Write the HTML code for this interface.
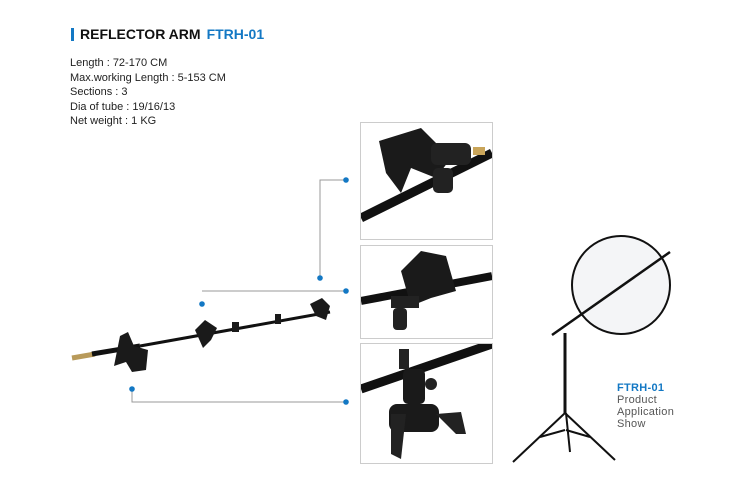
<!DOCTYPE html>
<html><head><style>
body{margin:0;background:#fff;}
.wrap{position:relative;width:732px;height:497px;overflow:hidden;font-family:"Liberation Sans",sans-serif;}
.t{position:absolute;left:80px;top:26px;font-weight:bold;font-size:14px;color:#111;}
.t span{color:#1378c4;margin-left:6px;}
.bar{position:absolute;left:71px;top:28px;width:3px;height:13px;background:#1378c4;}
.spec{position:absolute;left:70px;top:56px;font-size:11px;line-height:14.5px;color:#222;}
.box{position:absolute;left:360px;width:131px;border:1px solid #ccc;background:#fff;overflow:hidden;}
.lab{position:absolute;left:617px;top:382px;font-size:11px;line-height:12px;color:#555;letter-spacing:0.3px;}
.lab b{color:#1378c4;}
</style></head><body><div class="wrap">
<div class="bar"></div>
<div class="t">REFLECTOR ARM<span>FTRH-01</span></div>
<div class="spec">Length : 72-170 CM<br>Max.working Length : 5-153 CM<br>Sections : 3<br>Dia of tube : 19/16/13<br>Net weight : 1 KG</div>

<div class="box" style="top:122px;height:116px;">
<svg width="131" height="116"><line x1="0" y1="95" x2="131" y2="30" stroke="#111" stroke-width="9"/>
<polygon points="18,18 60,5 90,35 75,55 50,45 40,70 25,50" fill="#1a1a1a"/>
<rect x="70" y="20" width="40" height="22" rx="6" fill="#222"/><rect x="112" y="24" width="12" height="8" fill="#c9a55a"/>
<rect x="72" y="45" width="20" height="25" rx="5" fill="#222"/></svg></div>

<div class="box" style="top:245px;height:92px;">
<svg width="131" height="92"><line x1="0" y1="55" x2="131" y2="30" stroke="#111" stroke-width="8"/>
<polygon points="40,25 60,5 85,10 95,45 70,52 50,60" fill="#1a1a1a"/>
<rect x="30" y="50" width="28" height="12" fill="#222"/><rect x="32" y="62" width="14" height="22" rx="4" fill="#222"/></svg></div>

<div class="box" style="top:343px;height:119px;">
<svg width="131" height="119"><line x1="0" y1="45" x2="131" y2="0" stroke="#111" stroke-width="9"/>
<rect x="38" y="5" width="10" height="20" fill="#222"/><rect x="42" y="25" width="22" height="35" rx="5" fill="#1a1a1a"/>
<circle cx="70" cy="40" r="6" fill="#222"/><rect x="28" y="60" width="50" height="28" rx="8" fill="#1a1a1a"/>
<polygon points="30,70 45,70 40,115 30,110" fill="#222"/><polygon points="75,70 100,68 105,90 95,90" fill="#222"/></svg></div>

<svg width="732" height="497" style="position:absolute;left:0;top:0">
<g stroke="#999" stroke-width="1" fill="none">
<polyline points="346,180 320,180 320,278"/>
<polyline points="202,291 346,291"/>
<polyline points="132,389 132,402 346,402"/>
</g>
<g fill="#1378c4">
<circle cx="346" cy="180" r="2.8"/><circle cx="320" cy="278" r="2.8"/>
<circle cx="202" cy="304" r="2.8"/><circle cx="346" cy="291" r="2.8"/>
<circle cx="132" cy="389" r="2.8"/><circle cx="346" cy="402" r="2.8"/>
</g>
<!-- arm -->
<line x1="72" y1="358" x2="95" y2="354" stroke="#b89a5a" stroke-width="5"/>
<line x1="92" y1="354" x2="140" y2="346" stroke="#111" stroke-width="5"/>
<line x1="140" y1="346" x2="330" y2="312" stroke="#111" stroke-width="3"/>
<path d="M120,336 l8,-4 6,14 14,4 -2,20 -14,2 -6,-10 -12,4z" fill="#1a1a1a"/>
<path d="M195,330 l10,-10 12,8 -6,12 -8,8z" fill="#1a1a1a"/>
<rect x="232" y="322" width="7" height="10" fill="#1a1a1a"/><rect x="275" y="314" width="6" height="10" fill="#1a1a1a"/>
<path d="M310,304 l12,-6 8,8 -4,14 -10,-4z" fill="#1a1a1a"/>
<!-- reflector -->
<circle cx="621" cy="285" r="49" fill="#f4f5f7" stroke="#111" stroke-width="2"/>
<line x1="552" y1="335" x2="670" y2="252" stroke="#111" stroke-width="2.5"/>
<line x1="565" y1="333" x2="565" y2="413" stroke="#111" stroke-width="3"/>
<g stroke="#111" stroke-width="2" fill="none">
<line x1="565" y1="413" x2="513" y2="462"/><line x1="565" y1="413" x2="615" y2="460"/>
<line x1="566" y1="413" x2="570" y2="452"/>
<line x1="540" y1="437" x2="565" y2="430"/><line x1="590" y1="437" x2="566" y2="430"/>
</g>
</svg>
<div class="lab"><b>FTRH-01</b><br>Product<br>Application<br>Show</div>
</div></body></html>
